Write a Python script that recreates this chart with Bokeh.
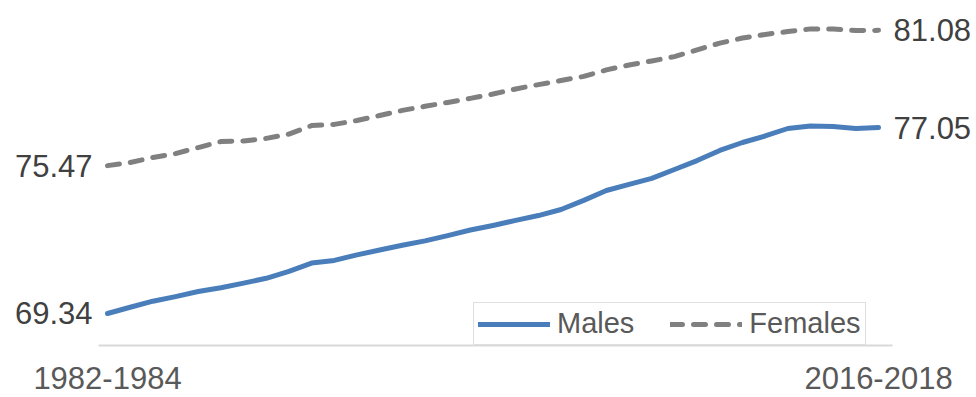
from bokeh.plotting import figure
from bokeh.models import Range1d, FixedTicker, Legend, LegendItem
from bokeh.core.properties import value
from bokeh.embed import file_html
from bokeh.resources import INLINE

periods = ["1982-1984", "1983-1985", "1984-1986", "1985-1987", "1986-1988",
           "1987-1989", "1988-1990", "1989-1991", "1990-1992", "1991-1993",
           "1992-1994", "1993-1995", "1994-1996", "1995-1997", "1996-1998",
           "1997-1999", "1998-2000", "1999-2001", "2000-2002", "2001-2003",
           "2002-2004", "2003-2005", "2004-2006", "2005-2007", "2006-2008",
           "2007-2009", "2008-2010", "2009-2011", "2010-2012", "2011-2013",
           "2012-2014", "2013-2015", "2014-2016", "2015-2017", "2016-2018"]

males = [69.34, 69.60, 69.85, 70.04, 70.25, 70.41, 70.60, 70.80, 71.09, 71.43,
         71.54, 71.77, 71.97, 72.17, 72.35, 72.57, 72.80, 72.99, 73.20, 73.40,
         73.65, 74.03, 74.44, 74.69, 74.94, 75.31, 75.68, 76.10, 76.43, 76.70,
         77.01, 77.11, 77.09, 77.01, 77.05]

females = [75.47, 75.60, 75.81, 75.97, 76.22, 76.47, 76.49, 76.60, 76.78, 77.13,
           77.18, 77.34, 77.55, 77.76, 77.93, 78.09, 78.26, 78.44, 78.65, 78.83,
           79.00, 79.17, 79.44, 79.64, 79.81, 79.99, 80.27, 80.55, 80.76, 80.91,
           81.03, 81.14, 81.14, 81.07, 81.08]

shown_ticks = [0, len(periods) - 1]

x = list(range(len(periods)))
FONT = "Liberation Sans"

p = figure(width=976, height=397, output_backend="svg", toolbar_location=None,
           x_range=Range1d(-4.719, 38.32), y_range=Range1d(68.013, 82.317),
           min_border=0, min_border_bottom=52, outline_line_color=None,
           background_fill_color="white", border_fill_color="white")
p.grid.visible = False
p.yaxis.visible = False

ax = p.xaxis[0]
ax.ticker = FixedTicker(ticks=shown_ticks)
ax.major_label_overrides = {i: periods[i] for i in shown_ticks}
ax.bounds = (-0.4, 34.62)
ax.axis_line_color = "#d9d9d9"
ax.axis_line_width = 2
ax.major_tick_line_color = None
ax.minor_tick_line_color = None
ax.major_label_text_font = FONT
ax.major_label_text_font_size = "31px"
ax.major_label_text_color = "#595959"
ax.major_label_standoff = 15

r_m = p.line(x, males, line_color="#4a7ebb", line_width=5, line_join="round", line_cap="round")
r_f = p.line(x, females, line_color="#808080", line_width=5, line_dash="12 11",
             line_join="round", line_cap="round")

first, last = 0, len(periods) - 1
p.text(x=[first, first], y=[females[first], males[first]],
       text=[f"{females[first]:.2f}", f"{males[first]:.2f}"],
       text_font=value(FONT), text_font_size="31px", text_color="#404040",
       text_align="right", text_baseline="middle", x_offset=-15)
p.text(x=[last, last], y=[females[last], males[last]],
       text=[f"{females[last]:.2f}", f"{males[last]:.2f}"],
       text_font=value(FONT), text_font_size="31px", text_color="#404040",
       text_align="left", text_baseline="middle", x_offset=15)

legend = Legend(items=[LegendItem(label="Males", renderers=[r_m]),
                       LegendItem(label="Females", renderers=[r_f])],
                orientation="horizontal", location=(473, 0),
                glyph_width=72, glyph_height=26, label_standoff=7, spacing=36,
                padding=4, margin=0,
                label_text_font=FONT, label_text_font_size="29px",
                label_text_color="#595959",
                border_line_color="#bfbfbf", border_line_width=1.5,
                background_fill_color="white", background_fill_alpha=1)
p.add_layout(legend, "center")

open("out.html", "w").write(file_html(p, INLINE))
